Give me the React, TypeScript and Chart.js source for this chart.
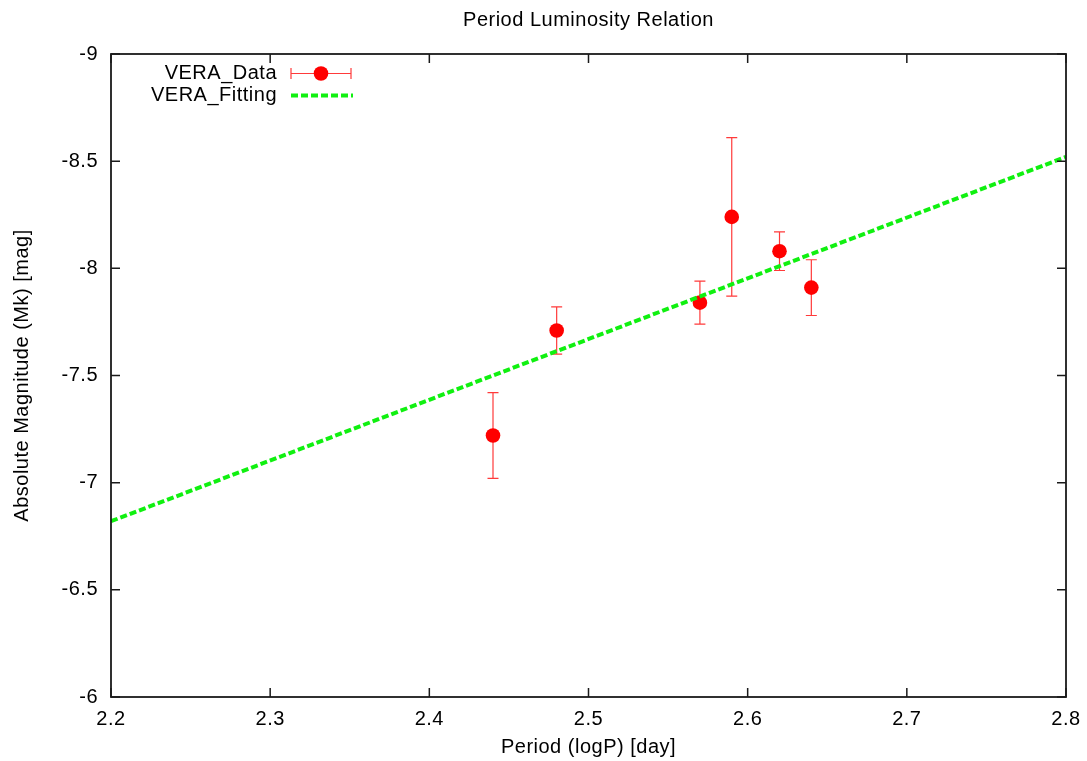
import { useEffect, useRef } from 'react';
import { Chart, registerables } from 'chart.js';

Chart.register(...registerables);

// ---- data ----
const logP = [2.44, 2.48, 2.57, 2.59, 2.62, 2.64];
const absMag = [-7.22, -7.71, -7.84, -8.24, -8.08, -7.91];
const magErr = [0.2, 0.11, 0.1, 0.37, 0.09, 0.13];
const fitLogP = [2.2, 2.8];
const fitMag = [-6.82, -8.52];
const xTicks = [2.2, 2.3, 2.4, 2.5, 2.6, 2.7, 2.8];
const yTicks = [-9, -8.5, -8, -7.5, -7, -6.5, -6];
const seriesNames = ['VERA_Data', 'VERA_Fitting'];
const titleText = 'Period Luminosity Relation';
const xTitle = 'Period (logP) [day]';
const yTitle = 'Absolute Magnitude (Mk) [mag]';

const FONT = '"Liberation Sans", Arial, sans-serif';
const FONT_SIZE = 20;
const SPACING = '0.5px';
const RED = '#ff0000';
const ERR_RED = '#ff3a3a';
const GREEN = '#10f010';

const gnuplotPlugin = {
  id: 'gnuplotLook',
  beforeUpdate(chart: any) {
    chart.ctx.letterSpacing = SPACING;
  },
  beforeDraw(chart: any) {
    const ctx = chart.ctx;
    ctx.letterSpacing = SPACING;
    ctx.save();
    ctx.fillStyle = '#ffffff';
    ctx.fillRect(0, 0, chart.width, chart.height);
    ctx.restore();
  },
  beforeDatasetsDraw(chart: any) {
    const ctx = chart.ctx;
    const xs = chart.scales.x;
    const ys = chart.scales.y;
    ctx.save();
    ctx.strokeStyle = ERR_RED;
    ctx.lineWidth = 1.2;
    for (let i = 0; i < logP.length; i++) {
      const px = xs.getPixelForValue(logP[i]);
      const y1 = ys.getPixelForValue(absMag[i] - magErr[i]);
      const y2 = ys.getPixelForValue(absMag[i] + magErr[i]);
      ctx.beginPath();
      ctx.moveTo(px, y1);
      ctx.lineTo(px, y2);
      ctx.moveTo(px - 5.5, y1);
      ctx.lineTo(px + 5.5, y1);
      ctx.moveTo(px - 5.5, y2);
      ctx.lineTo(px + 5.5, y2);
      ctx.stroke();
    }
    ctx.restore();
  },
  afterDatasetsDraw(chart: any) {
    const ctx = chart.ctx;
    const { left, right, top, bottom } = chart.chartArea;
    const xs = chart.scales.x;
    const ys = chart.scales.y;
    ctx.save();
    // frame
    ctx.strokeStyle = '#1a1a1a';
    ctx.lineWidth = 1.8;
    ctx.strokeRect(left, top, right - left, bottom - top);
    // inward ticks, mirrored
    const TL = 9;
    ctx.lineWidth = 1.5;
    ctx.beginPath();
    xTicks.forEach((v) => {
      const px = xs.getPixelForValue(v);
      ctx.moveTo(px, bottom);
      ctx.lineTo(px, bottom - TL);
      ctx.moveTo(px, top);
      ctx.lineTo(px, top + TL);
    });
    yTicks.forEach((v) => {
      const py = ys.getPixelForValue(v);
      ctx.moveTo(left, py);
      ctx.lineTo(left + TL, py);
      ctx.moveTo(right, py);
      ctx.lineTo(right - TL, py);
    });
    ctx.stroke();

    // legend
    ctx.letterSpacing = SPACING;
    ctx.font = `${FONT_SIZE}px ${FONT}`;
    ctx.fillStyle = '#000';
    ctx.textAlign = 'right';
    ctx.textBaseline = 'middle';
    const ly1 = top + 19.5;
    const ly2 = top + 41.5;
    ctx.fillText(seriesNames[0], left + 166, ly1);
    ctx.fillText(seriesNames[1], left + 166, ly2);
    // data sample
    const sx0 = left + 180;
    const sx1 = left + 240;
    ctx.strokeStyle = ERR_RED;
    ctx.lineWidth = 1.2;
    ctx.beginPath();
    ctx.moveTo(sx0, ly1);
    ctx.lineTo(sx1, ly1);
    ctx.moveTo(sx0, ly1 - 5.5);
    ctx.lineTo(sx0, ly1 + 5.5);
    ctx.moveTo(sx1, ly1 - 5.5);
    ctx.lineTo(sx1, ly1 + 5.5);
    ctx.stroke();
    ctx.fillStyle = RED;
    ctx.beginPath();
    ctx.arc((sx0 + sx1) / 2, ly1, 7.3, 0, Math.PI * 2);
    ctx.fill();
    // fit sample
    ctx.strokeStyle = GREEN;
    ctx.lineWidth = 4;
    ctx.setLineDash([7, 3]);
    ctx.beginPath();
    ctx.moveTo(sx0, ly2);
    ctx.lineTo(sx1 + 2, ly2);
    ctx.stroke();
    ctx.restore();
  },
};

export default function App() {
  const canvasRef = useRef<HTMLCanvasElement | null>(null);

  useEffect(() => {
    const canvas = canvasRef.current;
    if (!canvas) return;
    const font = { family: FONT, size: FONT_SIZE, weight: 'normal' as const, lineHeight: 1.2 };
    const chart = new Chart(canvas, {
      type: 'scatter',
      data: {
        datasets: [
          {
            label: seriesNames[1],
            data: fitLogP.map((x, i) => ({ x, y: fitMag[i] })),
            showLine: true,
            borderColor: GREEN,
            backgroundColor: GREEN,
            borderWidth: 4,
            borderDash: [7, 3],
            pointRadius: 0,
            order: 0,
          } as any,
          {
            label: seriesNames[0],
            data: logP.map((x, i) => ({ x, y: absMag[i] })),
            pointRadius: 7.3,
            pointBackgroundColor: RED,
            backgroundColor: RED,
            borderWidth: 0,
            pointBorderWidth: 0,
            order: 1,
          } as any,
        ],
      },
      options: {
        responsive: false,
        animation: false,
        devicePixelRatio: 1,
        layout: { padding: { left: 0, right: 21, top: 0, bottom: 0 } },
        plugins: {
          legend: { display: false },
          tooltip: { enabled: false },
          title: {
            display: true,
            text: titleText,
            fullSize: false,
            color: '#000',
            font,
            padding: { top: 8.5, bottom: 21.5 },
          },
        },
        scales: {
          x: {
            type: 'linear',
            min: 2.2,
            max: 2.8,
            grid: { display: false, drawTicks: false },
            border: { display: false },
            afterBuildTicks: (s: any) => {
              s.ticks = xTicks.map((v) => ({ value: v }));
            },
            afterFit: (s: any) => {
              s.height = 64;
              s.paddingLeft = 0;
              s.paddingRight = 0;
            },
            ticks: {
              color: '#000',
              font,
              padding: 10,
              maxRotation: 0,
              autoSkip: false,
              callback: (v: any) => String(v),
            },
            title: {
              display: true,
              text: xTitle,
              color: '#000',
              font,
              padding: { top: 0, bottom: 2 },
            },
          },
          y: {
            type: 'linear',
            reverse: true,
            min: -9,
            max: -6,
            grid: { display: false, drawTicks: false },
            border: { display: false },
            afterBuildTicks: (s: any) => {
              s.ticks = yTicks.map((v) => ({ value: v }));
            },
            afterFit: (s: any) => {
              s.width = 111;
              s.paddingTop = 0;
              s.paddingBottom = 0;
            },
            ticks: {
              color: '#000',
              font,
              padding: 13,
              autoSkip: false,
              callback: (v: any) => String(v),
            },
            title: {
              display: true,
              text: yTitle,
              color: '#000',
              font,
              padding: { top: 10.5, bottom: 0 },
            },
          },
        },
      } as any,
      plugins: [gnuplotPlugin],
    });
    return () => chart.destroy();
  }, []);

  return (
    <div style={{ position: 'fixed', left: 0, top: 0, width: 1087, height: 761, background: '#fff' }}>
      <canvas ref={canvasRef} width={1087} height={761} style={{ width: 1087, height: 761, display: 'block' }} />
    </div>
  );
}
